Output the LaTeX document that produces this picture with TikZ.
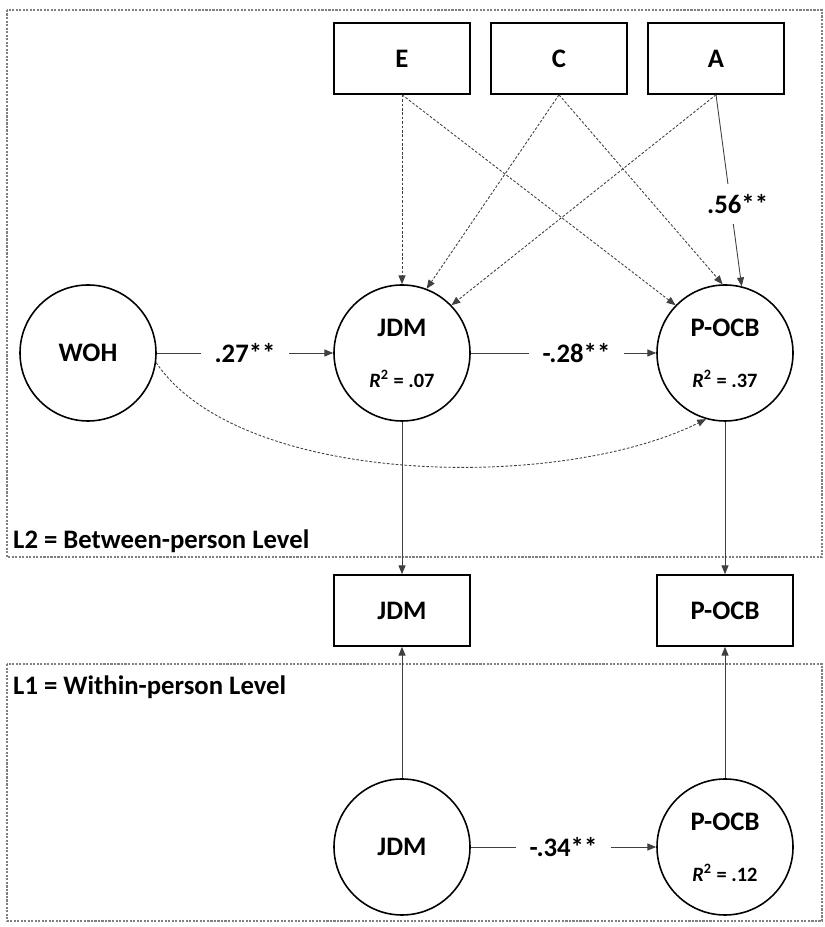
\documentclass[tikz,border=0pt]{standalone}
\usepackage{fontspec}
\setmainfont{Carlito}
\usetikzlibrary{arrows.meta}

\newcommand{\rsq}[1]{{\fontsize{11.6}{13}\selectfont\textit{R}\textsuperscript{2} = #1}}

\begin{document}
\begin{tikzpicture}[
	latent/.style={circle, draw, line width=0.9pt, minimum size=2.72cm, inner sep=0pt, align=center, font=\fontsize{15.2}{17}\selectfont\bfseries},
	obs/.style={rectangle, draw, line width=0.9pt, minimum width=2.72cm, minimum height=1.42cm, font=\fontsize{15.2}{17}\selectfont\bfseries},
	link/.style={draw=black!75, line width=0.5pt, -{Triangle[length=5pt, width=4pt]}},
	dlink/.style={link, dash pattern=on 1.5pt off 1pt},
	coef/.style={fill=white, inner xsep=8pt, inner ysep=6pt, text=black, font=\fontsize{15.2}{17}\selectfont\bfseries},
	frame/.style={draw=black!50, line width=0.6pt, dash pattern=on 1.2pt off 0.8pt},
	level/.style={anchor=west, font=\fontsize{15.2}{17}\selectfont\bfseries}
]
	\useasboundingbox (0,0) rectangle (16.48,18.54);

	% levels
	\draw[frame] (0.14,18.34) rectangle (16.44,7.40);
	\draw[frame] (0.14,5.26) rectangle (16.44,0.12);
	\node[level] (l2) at (0.14,7.72) {L2 = Between-person Level};
	\node[level] (l1) at (0.14,4.80) {L1 = Within-person Level};

	% between-person part
	\node[obs] (E) at (8.04,17.37) {E};
	\node[obs] (C) at (11.18,17.37) {C};
	\node[obs] (A) at (14.32,17.37) {A};
	\node[latent] (WOH) at (1.76,11.48) {WOH};
	\node[latent] (JDM2) at (8.04,11.48) {JDM\\[12pt]\rsq{.07}};
	\node[latent] (POCB2) at (14.5,11.48) {P-OCB\\[12pt]\rsq{.37}};

	\draw[dlink] (E.south) -- (JDM2.north);
	\draw[dlink] (C.south) -- (JDM2.69);
	\draw[dlink] (A.south) -- (JDM2.44);
	\draw[dlink] (E.south) -- (POCB2.136);
	\draw[dlink] (C.south) -- (POCB2.92);
	\draw[link] (A.south) -- node[coef, pos=0.57, xshift=4pt] {.56**} (POCB2.76);

	\draw[link] (WOH) -- node[coef] {.27**} (JDM2);
	\draw[link] (JDM2) -- node[coef, pos=0.57] {-.28**} (POCB2);
	\draw[dlink] (WOH.-8) .. controls (4.8,8.8) and (11.2,8.7) .. (POCB2.-106);

	% observed means
	\node[obs] (JDMm) at (8.04,6.33) {JDM};
	\node[obs] (POCBm) at (14.5,6.33) {P-OCB};
	\draw[link] (JDM2) -- (JDMm);
	\draw[link] (POCB2) -- (POCBm);

	% within-person part
	\node[latent] (JDM1) at (8.04,1.6) {JDM};
	\node[latent] (POCB1) at (14.5,1.6) {P-OCB\\[12pt]\rsq{.12}};
	\draw[link] (JDM1) -- (JDMm);
	\draw[link] (POCB1) -- (POCBm);
	\draw[link] (JDM1) -- node[coef] {-.34**} (POCB1);
\end{tikzpicture}
\end{document}
